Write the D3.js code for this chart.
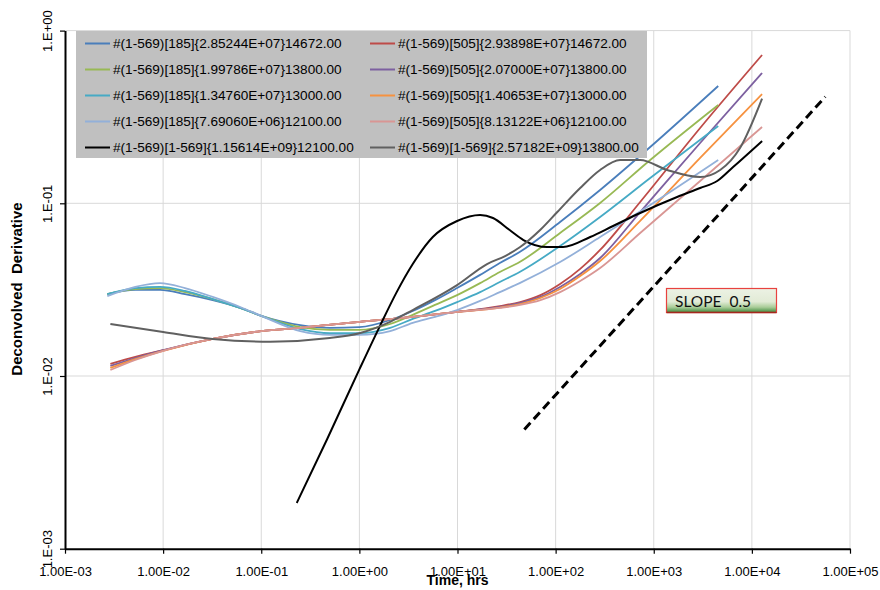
<!DOCTYPE html>
<html>
<head>
<meta charset="utf-8">
<script src="https://cdn.jsdelivr.net/npm/d3@7"></script>
<style>
  body { margin: 0; background: #fff; }
  svg { display: block; }
  text { font-family: "Liberation Sans", Arial, sans-serif; }
</style>
</head>
<body>
<svg id="chart" width="880" height="590"></svg>
<script>
// ---- axis ticks ----
const xTicks = [1e-3, 1e-2, 1e-1, 1, 10, 100, 1e3, 1e4, 1e5];
const xTickLabels = ["1.00E-03", "1.00E-02", "1.00E-01", "1.00E+00", "1.00E+01", "1.00E+02", "1.00E+03", "1.00E+04", "1.00E+05"];
const yTicks = [1e-3, 1e-2, 1e-1, 1];
const yTickLabels = ["1.E-03", "1.E-02", "1.E-01", "1.E+00"];

// ---- series names / colours (legend order) ----
const seriesNames = [
  "#(1-569)[185]{2.85244E+07}14672.00",
  "#(1-569)[505]{2.93898E+07}14672.00",
  "#(1-569)[185]{1.99786E+07}13800.00",
  "#(1-569)[505]{2.07000E+07}13800.00",
  "#(1-569)[185]{1.34760E+07}13000.00",
  "#(1-569)[505]{1.40653E+07}13000.00",
  "#(1-569)[185]{7.69060E+06}12100.00",
  "#(1-569)[505]{8.13122E+06}12100.00",
  "#(1-569)[1-569]{1.15614E+09}12100.00",
  "#(1-569)[1-569]{2.57182E+09}13800.00"
];
const seriesColors = ["#4a7ebb", "#be4b48", "#98b954", "#7d60a0", "#46aac5", "#f69240", "#93b0d9", "#d99694", "#000000", "#606060"];

// ---- well 185 deconvolutions: time (hrs) and derivative ----
const time185 = [0.0027, 0.0052, 0.0093, 0.0167, 0.032, 0.061, 0.1, 0.25, 0.5, 1, 2.06, 3.5, 5.9, 9.9, 17, 27, 43, 111, 284, 920, 4540];
const d185_285 = [0.0298, 0.0315, 0.0315, 0.0298, 0.0275, 0.0248, 0.0223, 0.0197, 0.0190, 0.0192, 0.0211, 0.0238, 0.0275, 0.0323, 0.0385, 0.0451, 0.0522, 0.0779, 0.1194, 0.2118, 0.478];
const d185_200 = [0.0298, 0.0319, 0.0323, 0.0306, 0.0279, 0.0248, 0.0223, 0.0192, 0.0185, 0.0185, 0.0200, 0.0226, 0.0258, 0.0294, 0.0345, 0.0400, 0.0457, 0.0673, 0.1004, 0.1781, 0.371];
const d185_135 = [0.0298, 0.0323, 0.0328, 0.0311, 0.0279, 0.0248, 0.0223, 0.0187, 0.0177, 0.0177, 0.0190, 0.0214, 0.0238, 0.0268, 0.0306, 0.0350, 0.0400, 0.0566, 0.0833, 0.1401, 0.2803];
const d185_077 = [0.0290, 0.0328, 0.0345, 0.0323, 0.0287, 0.0251, 0.0223, 0.0182, 0.0173, 0.0173, 0.0182, 0.0203, 0.0220, 0.0241, 0.0272, 0.0306, 0.0345, 0.0457, 0.0638, 0.0977, 0.1781];

// ---- well 505 deconvolutions ----
const time505 = [0.0029, 0.0052, 0.01, 0.032, 0.1, 0.25, 1, 3.5, 9.9, 27, 43.5, 70, 111, 178, 284, 727, 2970, 12700];
const d505_294 = [0.01174, 0.0129, 0.0141, 0.0164, 0.0182, 0.0190, 0.0206, 0.0220, 0.0235, 0.0254, 0.0268, 0.0294, 0.0341, 0.0417, 0.0537, 0.1017, 0.2729, 0.722];
const d505_207 = [0.01143, 0.01271, 0.0141, 0.0164, 0.0182, 0.0190, 0.0206, 0.0220, 0.0235, 0.0251, 0.0265, 0.0287, 0.0328, 0.0390, 0.0482, 0.0890, 0.2234, 0.568];
const d505_141 = [0.01113, 0.01254, 0.0140, 0.0164, 0.0182, 0.0190, 0.0206, 0.0220, 0.0235, 0.0249, 0.0261, 0.0283, 0.0319, 0.0379, 0.0463, 0.0790, 0.1830, 0.429];
const d505_081 = [0.01083, 0.01238, 0.0140, 0.0164, 0.0182, 0.0190, 0.0206, 0.0220, 0.0235, 0.0248, 0.0258, 0.0275, 0.0306, 0.0355, 0.0422, 0.0673, 0.1346, 0.2765];

// ---- field (1-569) deconvolutions ----
const timeField116 = [0.23, 0.47, 1.0, 1.6, 2.4, 3.5, 5.6, 9.9, 17, 23, 34, 47, 82, 119, 225, 385, 727, 1730, 2970, 4430, 6440, 12700];
const dField116 = [0.00184, 0.00432, 0.01092, 0.0192, 0.0306, 0.0445, 0.0638, 0.0790, 0.0856, 0.0822, 0.0700, 0.0613, 0.0558, 0.0558, 0.0638, 0.0739, 0.0879, 0.1088, 0.1226, 0.1346, 0.1622, 0.2294];
const timeField257 = [0.0029, 0.01, 0.032, 0.123, 0.5, 1.0, 2.06, 3.5, 9.9, 20, 30.6, 43.5, 69.5, 104, 178, 284, 454, 727, 1370, 2970, 4750, 7600, 12700];
const dField257 = [0.0200, 0.0180, 0.0164, 0.0158, 0.0166, 0.0177, 0.0206, 0.0241, 0.0336, 0.0445, 0.0495, 0.0558, 0.0700, 0.0890, 0.1226, 0.1559, 0.1781, 0.1781, 0.1559, 0.1420, 0.156, 0.21, 0.404];

// ---- half-slope guide line ----
const slopeTime = [48, 56000];
const slopeValue = [0.0049, 0.414];

const seriesTimes = [time185, time505, time185, time505, time185, time505, time185, time505, timeField116, timeField257];
const seriesValues = [d185_285, d505_294, d185_200, d505_207, d185_135, d505_141, d185_077, d505_081, dField116, dField257];

// ---- layout ----
const plot = { left: 65, right: 850, top: 30.6, bottom: 548.7 };
const svg = d3.select("#chart");

const x = d3.scaleLog().domain([1e-3, 1e5]).range([plot.left, plot.right]);
const y = d3.scaleLog().domain([1e-3, 1]).range([plot.bottom, plot.top]);

// gridlines
svg.append("g").selectAll("line").data(xTicks.slice(1)).join("line")
  .attr("x1", d => x(d)).attr("x2", d => x(d))
  .attr("y1", plot.top).attr("y2", plot.bottom)
  .attr("stroke", "#d9d9d9").attr("stroke-width", 1);
svg.append("g").selectAll("line").data(yTicks.slice(1)).join("line")
  .attr("x1", plot.left).attr("x2", plot.right)
  .attr("y1", d => y(d)).attr("y2", d => y(d))
  .attr("stroke", "#d9d9d9").attr("stroke-width", 1);

// smoothed curves
const line = d3.line()
  .x(d => x(d[0]))
  .y(d => y(d[1]))
  .curve(d3.curveMonotoneX);

const seriesG = svg.append("g");
seriesNames.forEach((name, i) => {
  const pts = seriesTimes[i].map((t, k) => [t, seriesValues[i][k]]);
  seriesG.append("path")
    .attr("d", line(pts))
    .attr("fill", "none")
    .attr("stroke", seriesColors[i])
    .attr("stroke-width", i >= 8 ? 2 : 1.8);
});

// half-slope dashed guide
svg.append("path")
  .attr("d", d3.line().x(d => x(d[0])).y(d => y(d[1]))(slopeTime.map((t, k) => [t, slopeValue[k]])))
  .attr("fill", "none")
  .attr("stroke", "#000")
  .attr("stroke-width", 3)
  .attr("stroke-dasharray", "9,5");

// axes
const xAxis = svg.append("g")
  .attr("transform", `translate(0,${plot.bottom})`)
  .call(d3.axisBottom(x).tickValues(xTicks).tickFormat((d, i) => xTickLabels[i]).tickSize(5).tickSizeOuter(0).tickPadding(13));
xAxis.select(".domain").attr("stroke", "#000").attr("stroke-width", 2);
xAxis.selectAll(".tick line").attr("stroke", "#000").attr("stroke-width", 1.2);
xAxis.selectAll(".tick text")
  .attr("fill", "#000")
  .style("font-size", "13px")
  .style("font-family", "'Liberation Sans', Arial, sans-serif");

const yAxis = svg.append("g")
  .attr("transform", `translate(${plot.left},0)`)
  .call(d3.axisLeft(y).tickValues(yTicks).tickFormat((d, i) => yTickLabels[i]).tickSize(5).tickSizeOuter(0));
yAxis.select(".domain").attr("stroke", "#000").attr("stroke-width", 2);
yAxis.selectAll(".tick line").attr("stroke", "#000").attr("stroke-width", 1.2);
yAxis.selectAll(".tick text")
  .attr("fill", "#000")
  .attr("x", null).attr("dy", null)
  .attr("text-anchor", "middle")
  .attr("transform", "translate(-13.5,0) rotate(-90)")
  .style("font-size", "13px")
  .style("font-family", "'Liberation Sans', Arial, sans-serif");

// axis titles
svg.append("text")
  .attr("transform", "translate(22,289) rotate(-90)")
  .attr("text-anchor", "middle")
  .style("font-size", "15px").style("font-weight", "bold")
  .style("white-space", "pre")
  .text("Deconvolved  Derivative");
svg.append("text")
  .attr("x", x(10)).attr("y", 585)
  .attr("text-anchor", "middle")
  .style("font-size", "14px").style("font-weight", "bold")
  .text("Time, hrs");

// legend
const legend = svg.append("g");
legend.append("rect")
  .attr("x", 76).attr("y", 31).attr("width", 571).attr("height", 127)
  .attr("fill", "#c0c0c0");
const colX = [85, 370];
seriesNames.forEach((name, i) => {
  const cx = colX[i % 2];
  const cy = 43.5 + Math.floor(i / 2) * 26;
  legend.append("line")
    .attr("x1", cx).attr("x2", cx + 25).attr("y1", cy).attr("y2", cy)
    .attr("stroke", seriesColors[i]).attr("stroke-width", 2);
  legend.append("text")
    .attr("x", cx + 28).attr("y", cy)
    .attr("dy", "0.35em")
    .style("font-size", "13.6px")
    .attr("fill", "#000")
    .text(name);
});

// slope annotation box
const defs = svg.append("defs");
const grad = defs.append("linearGradient").attr("id", "slopeFill")
  .attr("x1", 0).attr("y1", 0).attr("x2", 0).attr("y2", 1);
grad.append("stop").attr("offset", "0%").attr("stop-color", "#ecf2e4");
grad.append("stop").attr("offset", "55%").attr("stop-color", "#e2ebd6");
grad.append("stop").attr("offset", "78%").attr("stop-color", "#a9cc98");
grad.append("stop").attr("offset", "100%").attr("stop-color", "#3b8a3b");
svg.append("rect")
  .attr("x", 666.5).attr("y", 288.5).attr("width", 110).attr("height", 24)
  .attr("fill", "url(#slopeFill)")
  .attr("stroke", "#e8423f").attr("stroke-width", 1.2);
svg.append("line")
  .attr("x1", 666.5).attr("x2", 776.5).attr("y1", 312.5).attr("y2", 312.5)
  .attr("stroke", "#a4281e").attr("stroke-width", 1.5);
svg.append("text")
  .attr("x", 675).attr("y", 307)
  .style("font-family", "Lato, 'Open Sans', sans-serif")
  .style("font-size", "15.5px")
  .style("white-space", "pre")
  .attr("fill", "#111")
  .text("SLOPE  0.5");
</script>
</body>
</html>
